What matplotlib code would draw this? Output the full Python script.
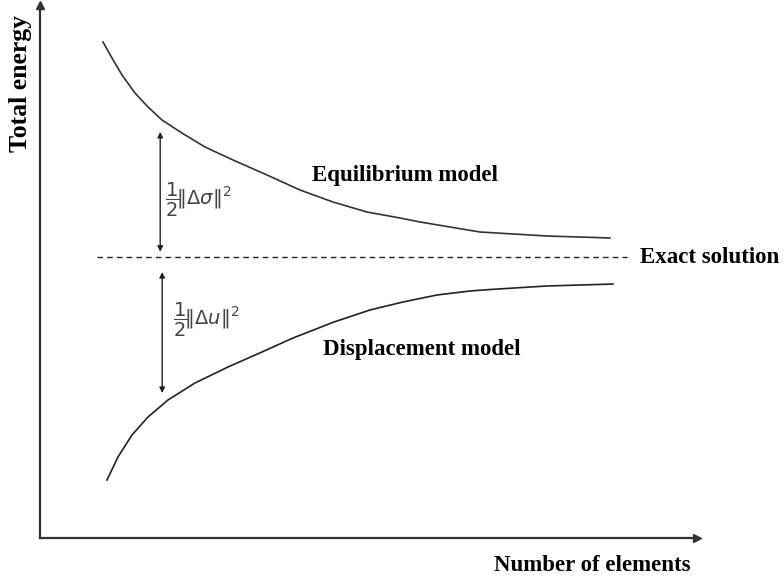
import matplotlib.pyplot as plt

# schematic: total energy vs number of elements (arbitrary 0-100 units)
eq_x = [9.59, 10.96, 12.48, 14.46, 16.44, 18.57, 21.61, 25.11, 29.38, 34.55,
        39.57, 44.60, 49.77, 54.79, 57.84, 66.97, 77.17, 86.76]
eq_y = [93.06, 90.06, 86.87, 83.49, 80.86, 78.42, 75.98, 73.36, 70.92, 68.11,
        65.29, 63.04, 61.16, 60.04, 59.29, 57.41, 56.66, 56.29]

disp_x = [10.20, 11.87, 14.00, 16.44, 19.48, 23.59, 28.61, 33.79, 38.51, 44.75,
          50.23, 55.25, 60.43, 65.45, 68.49, 77.17, 87.21]
disp_y = [10.88, 15.20, 19.32, 22.70, 25.89, 29.08, 32.08, 34.90, 37.52, 40.53,
          42.78, 44.28, 45.59, 46.34, 46.62, 47.28, 47.65]

exact_y = 52.7
exact_x = [8.7, 89.3]

plt.rcParams['font.family'] = 'Liberation Serif'
size = 16.5

fig = plt.figure(figsize=(7.84, 5.8), dpi=100)
ax = fig.add_axes([0.051, 0.0724, 0.838, 0.919])
ax.set_xlim(0, 100)
ax.set_ylim(0, 100)

ax.plot(eq_x, eq_y, color='#333333', lw=1.2, solid_joinstyle='round')
ax.plot(disp_x, disp_y, color='#222222', lw=1.2, solid_joinstyle='round')
ax.plot(exact_x, [exact_y, exact_y], color='#222222', lw=1.0, ls=(0, (4, 3)))

# error arrows
ax.annotate('', xy=(18.3, 76.2), xytext=(18.3, 53.7),
            arrowprops=dict(arrowstyle='<|-|>', color='#222222', lw=1.0,
                            mutation_scale=8, shrinkA=0, shrinkB=0))
ax.annotate('', xy=(18.6, 49.9), xytext=(18.6, 27.2),
            arrowprops=dict(arrowstyle='<|-|>', color='#222222', lw=1.0,
                            mutation_scale=8, shrinkA=0, shrinkB=0))

ax.text(19.0, 63.4, r'$\dfrac{1}{2}\!\Vert\Delta\sigma\Vert^2$', fontsize=14,
        family='DejaVu Sans', ha='left', va='center', color='#444444')
ax.text(20.2, 40.9, r'$\dfrac{1}{2}\!\Vert\Delta u\Vert^2$', fontsize=14,
        family='DejaVu Sans', ha='left', va='center', color='#444444')

ax.text(41.4, 68.1, 'Equilibrium model', fontsize=size, weight='bold', ha='left', va='center')
ax.text(43.1, 35.3, 'Displacement model', fontsize=size, weight='bold', ha='left', va='center')
ax.text(91.3, exact_y, 'Exact solution', fontsize=size, weight='bold', ha='left', va='center')

# axis titles placed like the sketch
ax.text(99, -5.1, 'Number of elements', fontsize=size, weight='bold', ha='right', va='center')
ax.text(-2.9, 98.1, 'Total energy', fontsize=18.5, weight='bold', rotation=90,
        ha='center', va='top')

# plain axes with arrow heads
for s in ['top', 'right']:
    ax.spines[s].set_visible(False)
for s in ['left', 'bottom']:
    ax.spines[s].set_linewidth(1.6)
    ax.spines[s].set_color('#333333')
ax.set_xticks([])
ax.set_yticks([])
ax.plot(1, 0, '>', color='#333333', ms=6, transform=ax.transAxes, clip_on=False)
ax.plot(0, 1, '^', color='#333333', ms=6, transform=ax.transAxes, clip_on=False)

plt.savefig('out.png')
